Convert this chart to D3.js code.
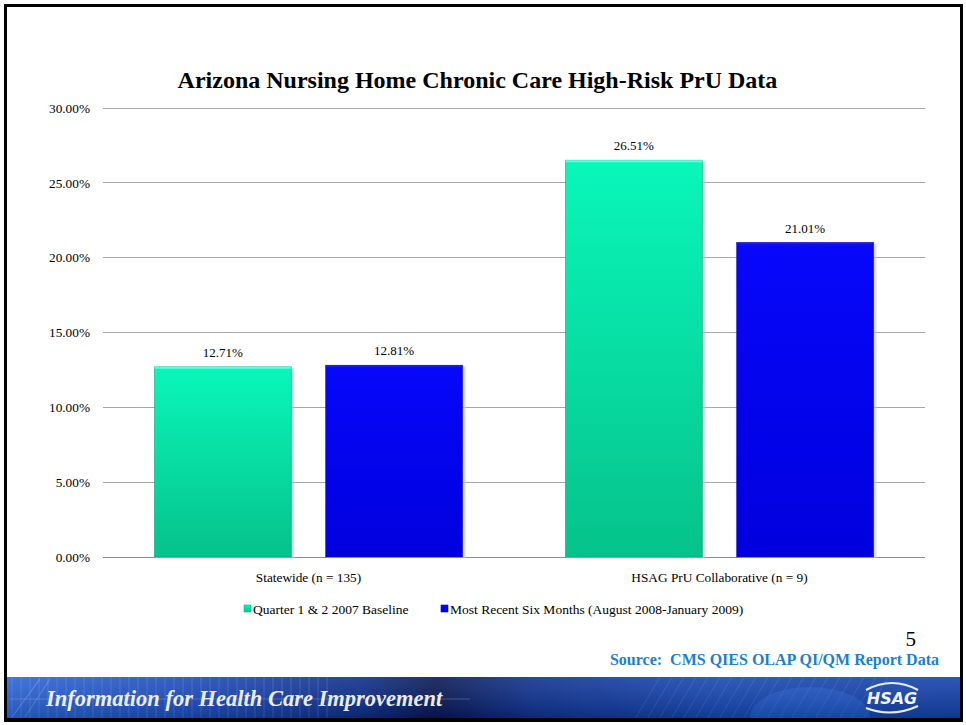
<!DOCTYPE html>
<html>
<head>
<meta charset="utf-8">
<script src="https://cdn.jsdelivr.net/npm/d3@7"></script>
<style>
  html, body { margin: 0; padding: 0; background: #fff; }
  svg { display: block; }
  text { white-space: pre; }
</style>
</head>
<body>
<svg id="chart" width="966" height="725"></svg>
<script>
const categories = ["Statewide (n = 135)", "HSAG PrU Collaborative (n = 9)"];
const seriesNames = ["Quarter 1 & 2 2007 Baseline", "Most Recent Six Months (August 2008-January 2009)"];
const baselineValues = [12.71, 26.51];
const recentValues = [12.81, 21.01];
const yTicks = [0, 5, 10, 15, 20, 25, 30];
const titleText = "Arizona Nursing Home Chronic Care High-Risk PrU Data";
const sourceText = "Source:  CMS QIES OLAP QI/QM Report Data";
const pageNumber = "5";
const bannerText = "Information for Health Care Improvement";

const svg = d3.select("#chart");
const W = 966, H = 725;
const serif = "'Liberation Serif', 'Times New Roman', serif";

const defs = svg.append("defs");
const gG = defs.append("linearGradient").attr("id", "gGreen").attr("x1", 0).attr("y1", 0).attr("x2", 0).attr("y2", 1);
gG.append("stop").attr("offset", "0%").attr("stop-color", "#09f7ba");
gG.append("stop").attr("offset", "100%").attr("stop-color", "#05c28b");
const gB = defs.append("linearGradient").attr("id", "gBlue").attr("x1", 0).attr("y1", 0).attr("x2", 0).attr("y2", 1);
gB.append("stop").attr("offset", "0%").attr("stop-color", "#0707fb");
gB.append("stop").attr("offset", "100%").attr("stop-color", "#0000de");
const gBan = defs.append("linearGradient").attr("id", "gBanner").attr("x1", 0).attr("y1", 0).attr("x2", 1).attr("y2", 0);
[["0%", "#2a63d6"], ["20%", "#1a48b8"], ["38%", "#0b2a86"], ["45%", "#061650"], ["55%", "#0c2f8f"], ["75%", "#1445b0"], ["100%", "#113fa8"]]
  .forEach(([o, c]) => gBan.append("stop").attr("offset", o).attr("stop-color", c));
const gBanV = defs.append("linearGradient").attr("id", "gBannerV").attr("x1", 0).attr("y1", 0).attr("x2", 0).attr("y2", 1);
gBanV.append("stop").attr("offset", "0%").attr("stop-color", "#ffffff").attr("stop-opacity", 0.12);
gBanV.append("stop").attr("offset", "100%").attr("stop-color", "#000000").attr("stop-opacity", 0.15);
defs.append("clipPath").attr("id", "banClip").append("rect").attr("x", 5).attr("y", 677).attr("width", W - 10).attr("height", 42);

const margin = { left: 103, right: 41, top: 108, bottom: 168 };
const plotW = W - margin.left - margin.right;
const plotH = H - margin.top - margin.bottom;

const x0 = d3.scaleBand().domain(categories).range([margin.left, margin.left + plotW]).paddingInner(0).paddingOuter(0);
const x1 = d3.scaleBand().domain(seriesNames).range([0, x0.bandwidth()]).paddingInner(0.2).paddingOuter(0.3);
const y = d3.scaleLinear().domain([0, 30]).range([margin.top + plotH, margin.top]);

// gridlines
svg.append("g").selectAll("line").data(yTicks).join("line")
  .attr("x1", margin.left).attr("x2", margin.left + plotW)
  .attr("y1", d => y(d)).attr("y2", d => y(d))
  .attr("stroke", d => d === 0 ? "#8c8c8c" : "#a6a6a6").attr("stroke-width", 1)
  .attr("shape-rendering", "crispEdges");

// y axis labels
const yAxis = d3.axisLeft(y).tickValues(yTicks).tickSize(0).tickPadding(13).tickFormat(d => d.toFixed(2) + "%");
const ya = svg.append("g").attr("transform", `translate(${margin.left},0)`).call(yAxis);
ya.select(".domain").remove();
ya.selectAll("text").attr("font-family", serif).attr("font-size", 13.3).attr("fill", "#000");

// bars
const data = categories.map((c, i) => ({ cat: c, vals: [baselineValues[i], recentValues[i]] }));
const fills = ["url(#gGreen)", "url(#gBlue)"];
const groups = svg.append("g").selectAll("g").data(data).join("g")
  .attr("transform", d => `translate(${x0(d.cat)},0)`);
groups.each(function(d) {
  const g = d3.select(this);
  d.vals.forEach((v, j) => {
    const bx = x1(seriesNames[j]), bw = x1.bandwidth();
    g.append("rect").attr("x", bx + 1).attr("y", y(v) + 1).attr("width", bw + 2).attr("height", y(0) - y(v))
      .attr("fill", "#c8c8c8").attr("opacity", 0.6);
    g.append("rect").attr("x", bx).attr("y", y(v)).attr("width", bw).attr("height", y(0) - y(v))
      .attr("fill", fills[j]).attr("stroke", j === 0 ? "#069a70" : "#0000a8").attr("stroke-width", 0.8).attr("stroke-opacity", 0.6);
    g.append("rect").attr("x", bx).attr("y", y(v)).attr("width", bw).attr("height", 2)
      .attr("fill", j === 0 ? "#5ffde0" : "#1a1ae0");
    g.append("text").attr("x", bx + bw / 2).attr("y", y(v) - 10)
      .attr("text-anchor", "middle").attr("font-family", serif).attr("font-size", 13).attr("fill", "#000")
      .text(v.toFixed(2) + "%");
  });
});

// category labels
const xAxis = d3.axisBottom(x0).tickSize(0).tickPadding(16);
const xa = svg.append("g").attr("transform", `translate(0,${y(0)})`).call(xAxis);
xa.select(".domain").remove();
xa.selectAll("text").attr("font-family", serif).attr("font-size", 13.3).attr("fill", "#000");

// title
svg.append("text").attr("x", 477.5).attr("y", 88).attr("text-anchor", "middle")
  .attr("font-family", serif).attr("font-weight", "bold").attr("font-size", 24).attr("fill", "#000")
  .text(titleText);

// legend
const legendX = [244, 441];
const legStroke = ["#06b986", "#0000c8"];
seriesNames.forEach((s, i) => {
  const lg = svg.append("g").attr("transform", `translate(${legendX[i]},605)`);
  lg.append("rect").attr("x", 0).attr("y", 0).attr("width", 7).attr("height", 7).attr("fill", fills[i])
    .attr("stroke", legStroke[i]).attr("stroke-width", 0.6);
  lg.append("text").attr("x", 9).attr("y", 8.5).attr("font-family", serif).attr("font-size", 13.5).attr("fill", "#000").text(s);
});

// page number & source
svg.append("text").attr("x", 916).attr("y", 646).attr("text-anchor", "end")
  .attr("font-family", serif).attr("font-size", 21).attr("fill", "#000").text(pageNumber);
svg.append("text").attr("x", 939).attr("y", 665).attr("text-anchor", "end")
  .attr("font-family", serif).attr("font-weight", "bold").attr("font-size", 16).attr("fill", "#1c7fd0").text(sourceText);

// banner
const by = 677, bh = 42;
const ban = svg.append("g").attr("clip-path", "url(#banClip)");
ban.append("rect").attr("x", 5).attr("y", by).attr("width", W - 10).attr("height", bh).attr("fill", "url(#gBanner)");
const deco = ban.append("g").attr("stroke", "#8fb4ff").attr("stroke-opacity", 0.25).attr("stroke-width", 1);
d3.range(12, 330, 9).forEach(xx => deco.append("line").attr("x1", xx).attr("x2", xx).attr("y1", by).attr("y2", by + bh));
d3.range(660, 900, 12).forEach(xx => deco.append("line").attr("x1", xx).attr("x2", xx - 25).attr("y1", by).attr("y2", by + bh).attr("stroke-opacity", 0.18));
deco.append("line").attr("x1", 10).attr("x2", 470).attr("y1", by + 22).attr("y2", by + 22).attr("stroke-opacity", 0.35);
deco.append("line").attr("x1", 12).attr("x2", 40).attr("y1", by + 40).attr("y2", by + 2).attr("stroke-opacity", 0.5);
deco.append("line").attr("x1", 25).attr("x2", 50).attr("y1", by + 40).attr("y2", by + 2).attr("stroke-opacity", 0.4);
ban.append("ellipse").attr("cx", 810).attr("cy", by + 40).attr("rx", 60).attr("ry", 30).attr("fill", "#2a6ee8").attr("opacity", 0.35);
ban.append("rect").attr("x", 5).attr("y", by).attr("width", W - 10).attr("height", bh).attr("fill", "url(#gBannerV)");
ban.append("text").attr("x", 46).attr("y", by + 29).attr("font-family", serif).attr("font-style", "italic").attr("font-weight", "bold")
  .attr("font-size", 22.5).attr("fill", "#ffffff").attr("fill-opacity", 0.92).text(bannerText);
const logo = ban.append("g").attr("transform", `translate(892,${by + 21})`);
logo.append("path").attr("d", "M-26,-8 Q0,-22 26,-8").attr("fill", "none").attr("stroke", "#e8eefc").attr("stroke-width", 2);
logo.append("path").attr("d", "M-26,10 Q0,20 26,8").attr("fill", "none").attr("stroke", "#e8eefc").attr("stroke-width", 2);
logo.append("text").attr("x", 0).attr("y", 6).attr("text-anchor", "middle").attr("font-family", "'DejaVu Sans', sans-serif")
  .attr("font-weight", "bold").attr("font-style", "italic").attr("font-size", 16).attr("fill", "#f2f5fc").text("HSAG");
svg.append("line").attr("x1", 5).attr("x2", W - 5).attr("y1", by + bh).attr("y2", by + bh).attr("stroke", "#000").attr("stroke-width", 2);

// slide frame
svg.append("rect").attr("x", 5.5).attr("y", 5.5).attr("width", 956).attr("height", 715)
  .attr("fill", "none").attr("stroke", "#000").attr("stroke-width", 3);
</script>
</body>
</html>
